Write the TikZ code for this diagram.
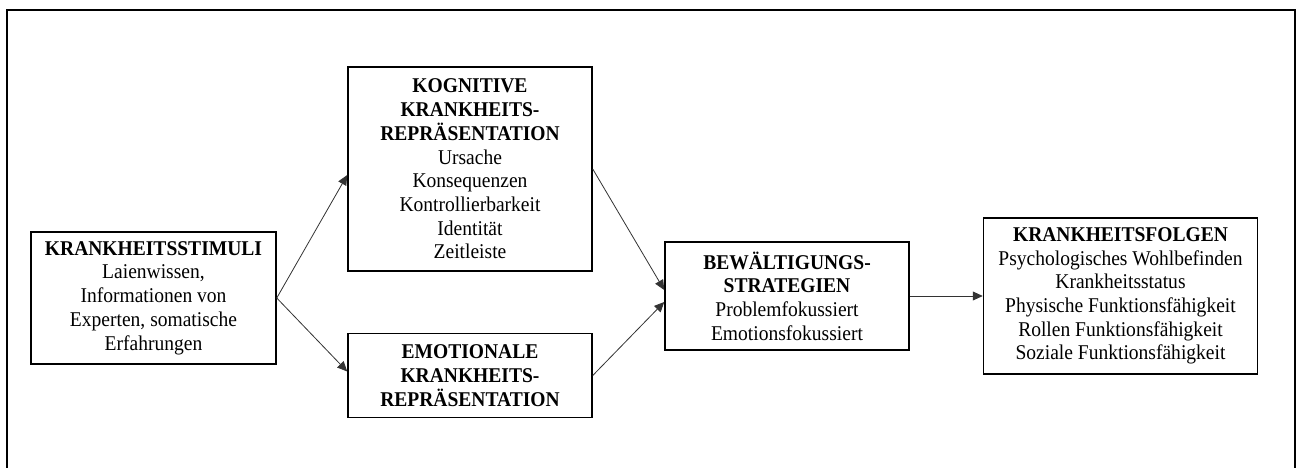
\documentclass[tikz,border=0pt]{standalone}
\usepackage{fontspec}
\setmainfont{Liberation Serif}[FakeStretch=0.93]
\usepackage{tikz}
\usetikzlibrary{arrows.meta,positioning}

\begin{document}
\begin{tikzpicture}[x=1pt, y=-1pt,
        box/.style={draw, line width=1.5pt, align=center, inner sep=0pt,
                    font=\fontsize{21}{23.7}\selectfont},
        arrow/.style={-{Triangle[length=10pt,width=9pt]}, line width=0.8pt, black!80}
    ]
        \useasboundingbox (0,0) rectangle (1298,468);
        % open frame round the model
        \draw[line width=2pt] (7,468) -- (7,10) -- (1295,10) -- (1295,468);

        \node[box, minimum width=245pt, minimum height=132pt] (stimuli) at (153.5,298)
            {\textbf{KRANKHEITSSTIMULI}\\Laienwissen,\\Informationen von\\Experten, somatische\\Erfahrungen};
        \node[box, minimum width=244pt, minimum height=204pt] (kognitiv) at (470,169)
            {\textbf{KOGNITIVE}\\\textbf{KRANKHEITS-}\\\textbf{REPRÄSENTATION}\\Ursache\\Konsequenzen\\Kontrollierbarkeit\\Identität\\Zeitleiste};
        \node[box, minimum width=244pt, minimum height=84pt, below=61pt of kognitiv] (emotional)
            {\textbf{EMOTIONALE}\\\textbf{KRANKHEITS-}\\\textbf{REPRÄSENTATION}};
        \node[box, minimum width=244pt, minimum height=108pt] (coping) at (787,296)
            {\textbf{BEWÄLTIGUNGS-}\\\textbf{STRATEGIEN}\\Problemfokussiert\\Emotionsfokussiert};
        \node[box, minimum width=274pt, minimum height=156pt, right=73pt of coping] (folgen)
            {\textbf{KRANKHEITSFOLGEN}\\Psychologisches Wohlbefinden\\Krankheitsstatus\\Physische Funktionsfähigkeit\\Rollen Funktionsfähigkeit\\Soziale Funktionsfähigkeit};

        \draw[arrow] (stimuli.east) -- ([yshift=-6pt]kognitiv.west);
        \draw[arrow] (stimuli.east) -- ([yshift=4pt]emotional.west);
        \draw[arrow] (kognitiv.east) -- ([yshift=6pt]coping.west);
        \draw[arrow] (emotional.east) -- ([yshift=-6pt]coping.west);
        \draw[arrow] (coping) -- (folgen);
    \end{tikzpicture}
\end{document}
